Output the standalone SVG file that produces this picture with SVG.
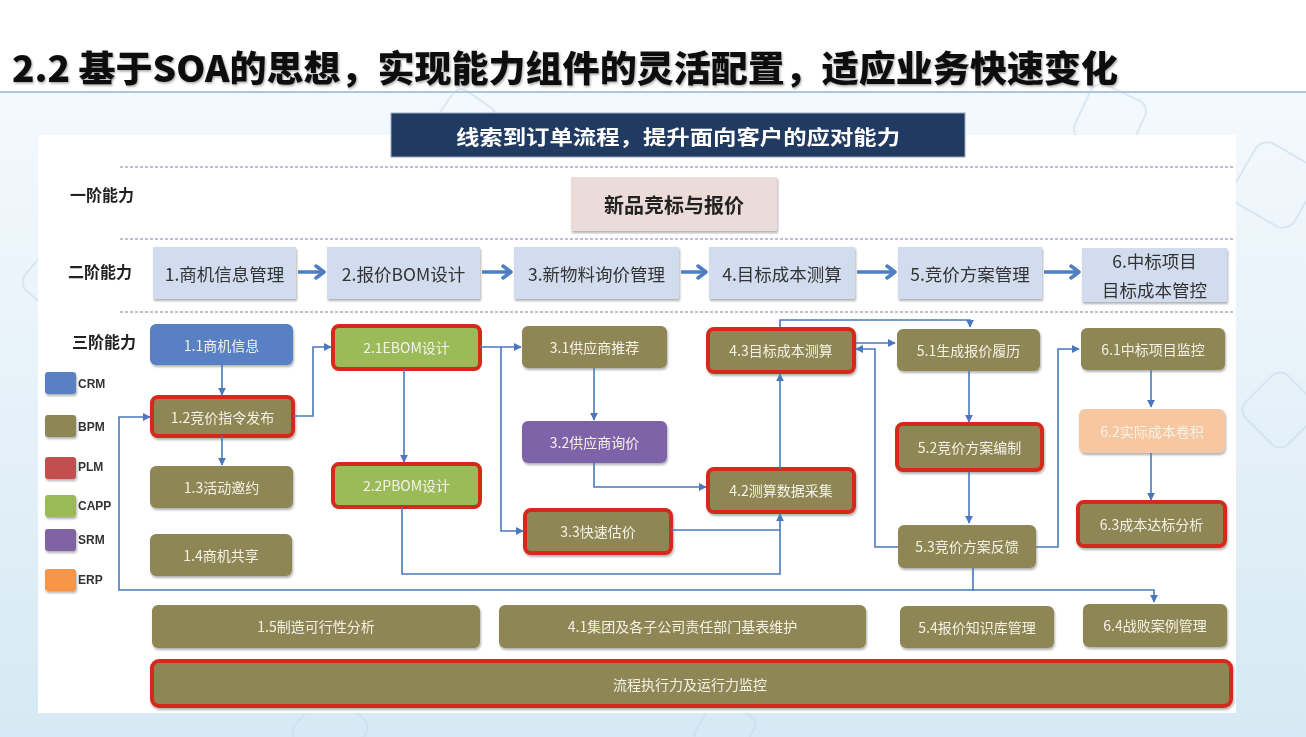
<svg xmlns="http://www.w3.org/2000/svg" width="1306" height="737" viewBox="0 0 1306 737">
<defs>
<linearGradient id="bg" x1="0" y1="0" x2="0" y2="1">
<stop offset="0" stop-color="#F4F9FD"/>
<stop offset="1" stop-color="#D6E9F4"/>
</linearGradient>
<filter id="sh" x="-10%" y="-20%" width="120%" height="150%">
<feDropShadow dx="1" dy="2" stdDeviation="1.2" flood-color="#000" flood-opacity="0.3"/>
</filter>
<filter id="tsh" x="-2%" y="-20%" width="104%" height="150%">
<feDropShadow dx="1" dy="1.5" stdDeviation="0.8" flood-color="#000" flood-opacity="0.35"/>
</filter>
<marker id="ar" viewBox="0 0 10 10" refX="9" refY="5" markerWidth="8" markerHeight="8" markerUnits="userSpaceOnUse" orient="auto">
<path d="M0,0 L10,5 L0,10 z" fill="#4A78BC"/>
</marker>
<marker id="ar2" viewBox="0 0 12 16" refX="10" refY="8" markerWidth="12" markerHeight="16" markerUnits="userSpaceOnUse" orient="auto">
<path d="M2,2 L10,8 L2,14" fill="none" stroke="#4F7EC0" stroke-width="3.5" stroke-linecap="round" stroke-linejoin="round"/>
</marker>
</defs>
<style>
.t3{font-family:"Noto Sans CJK SC","Liberation Sans",sans-serif;font-size:14px;fill:#F4F2E6;text-anchor:middle;dominant-baseline:central}
.t2{font-family:"Noto Sans CJK SC","Liberation Sans",sans-serif;font-size:17.5px;fill:#333;text-anchor:middle;dominant-baseline:central}
.lv{font-family:"Noto Sans CJK SC",sans-serif;font-size:16px;font-weight:bold;fill:#222}
.lg{font-family:"Liberation Sans",sans-serif;font-size:12px;font-weight:bold;fill:#333}
.ol{fill:#8E8754;filter:url(#sh)}
.red{stroke:#D42A1C;stroke-width:4}
.b2{fill:#D1DCEE;filter:url(#sh)}
.cn{fill:none;stroke:#4A78BC;stroke-width:1.6;marker-end:url(#ar)}
.cn0{fill:none;stroke:#4A78BC;stroke-width:1.6}
.big{fill:none;stroke:#4F7EC0;stroke-width:3.5;marker-end:url(#ar2)}
.dot{stroke:#A4ADBD;stroke-width:1.6;stroke-dasharray:3 2}
.dec{fill:none;stroke:#C9DDEC;stroke-width:1.5}
</style>

<!-- background -->
<rect x="0" y="0" width="1306" height="737" fill="#FFFFFF"/>
<rect x="0" y="92" width="1306" height="645" fill="url(#bg)"/>
<g opacity="0.8">
<rect class="dec" x="30" y="250" width="60" height="60" rx="12" transform="rotate(40 60 280)"/>
<rect class="dec" x="1240" y="150" width="70" height="70" rx="14" transform="rotate(30 1275 185)"/>
<rect class="dec" x="1250" y="380" width="60" height="60" rx="12" transform="rotate(45 1280 410)"/>
<rect class="dec" x="440" y="95" width="50" height="50" rx="10" transform="rotate(35 465 120)"/>
<rect class="dec" x="1080" y="90" width="60" height="60" rx="12" transform="rotate(25 1110 120)"/>
<rect class="dec" x="300" y="700" width="60" height="60" rx="12" transform="rotate(40 330 730)"/>
<rect class="dec" x="700" y="705" width="50" height="50" rx="10" transform="rotate(30 725 730)"/>
</g>
<line x1="0" y1="92" x2="1306" y2="92" stroke="#A9C6E3" stroke-width="2"/>
<rect x="38" y="135" width="1198" height="578" fill="#FFFFFF"/>

<!-- title -->
<text x="12" y="82" font-family="Noto Sans CJK SC,Liberation Sans,sans-serif" font-size="36" font-weight="900" fill="#111" textLength="1106" lengthAdjust="spacingAndGlyphs" filter="url(#tsh)">2.2 基于SOA的思想，实现能力组件的灵活配置，适应业务快速变化</text>

<g id="header">
<rect x="391" y="113" width="574" height="44" fill="#213A61" stroke="#9AAAC2" stroke-width="1"/>
<text x="678" y="136" font-family="Noto Sans CJK SC,sans-serif" font-size="20" font-weight="bold" fill="#FFFFFF" text-anchor="middle" dominant-baseline="central" textLength="444" lengthAdjust="spacingAndGlyphs">线索到订单流程，提升面向客户的应对能力</text>
</g>

<!-- dotted separators -->
<line class="dot" x1="120" y1="167" x2="1235" y2="167"/>
<line class="dot" x1="120" y1="239" x2="1235" y2="239"/>
<line class="dot" x1="120" y1="312" x2="1235" y2="312"/>

<!-- level labels -->
<text class="lv" x="70" y="201">一阶能力</text>
<text class="lv" x="68" y="278">二阶能力</text>
<text class="lv" x="72" y="348">三阶能力</text>

<!-- legend -->
<g id="legend">
<rect x="45" y="372" width="31" height="22" rx="3" fill="#5A80C4" filter="url(#sh)"/><text class="lg" x="78" y="388">CRM</text>
<rect x="45" y="415" width="31" height="22" rx="3" fill="#8E8754" filter="url(#sh)"/><text class="lg" x="78" y="431">BPM</text>
<rect x="45" y="457" width="31" height="22" rx="3" fill="#C0504D" filter="url(#sh)"/><text class="lg" x="78" y="471">PLM</text>
<rect x="45" y="495" width="31" height="22" rx="3" fill="#9BBB59" filter="url(#sh)"/><text class="lg" x="78" y="510">CAPP</text>
<rect x="45" y="529" width="31" height="22" rx="3" fill="#8064A2" filter="url(#sh)"/><text class="lg" x="78" y="544">SRM</text>
<rect x="45" y="569" width="31" height="22" rx="3" fill="#F79646" filter="url(#sh)"/><text class="lg" x="78" y="584">ERP</text>
</g>

<!-- level 1 -->
<g id="L1">
<rect x="571" y="177" width="206" height="54" fill="#EBDBD9" filter="url(#sh)"/>
<text x="674" y="204" font-family="Noto Sans CJK SC,sans-serif" font-size="20" font-weight="bold" fill="#222" text-anchor="middle" dominant-baseline="central">新品竞标与报价</text>
</g>

<!-- level 2 -->
<g id="L2-1"><rect class="b2" x="153" y="247" width="143" height="52"/><text class="t2" x="224.5" y="273">1.商机信息管理</text></g>
<g id="L2-2"><rect class="b2" x="327" y="247" width="153" height="52"/><text class="t2" x="403.5" y="273">2.报价BOM设计</text></g>
<g id="L2-3"><rect class="b2" x="514" y="247" width="165" height="52"/><text class="t2" x="596.5" y="273">3.新物料询价管理</text></g>
<g id="L2-4"><rect class="b2" x="709" y="247" width="146" height="52"/><text class="t2" x="782" y="273">4.目标成本测算</text></g>
<g id="L2-5"><rect class="b2" x="898" y="247" width="144" height="52"/><text class="t2" x="970" y="273">5.竞价方案管理</text></g>
<g id="L2-6"><rect class="b2" x="1082" y="248" width="145" height="54"/><text class="t2" x="1154.5" y="260">6.中标项目</text><text class="t2" x="1154.5" y="289">目标成本管控</text></g>

<!-- level 3 -->
<g id="n11"><rect x="150" y="324" width="143" height="41" rx="6" fill="#5A80C4" filter="url(#sh)"/><text class="t3" x="221.5" y="345">1.1商机信息</text></g>
<g id="n12"><rect class="ol red" x="152" y="397" width="141" height="39" rx="6"/><text class="t3" x="222.5" y="417">1.2竞价指令发布</text></g>
<g id="n13"><rect class="ol" x="150" y="466" width="143" height="42" rx="6"/><text class="t3" x="221.5" y="487">1.3活动邀约</text></g>
<g id="n14"><rect class="ol" x="150" y="534" width="142" height="42" rx="6"/><text class="t3" x="221" y="555">1.4商机共享</text></g>
<g id="n21"><rect class="red" x="333" y="326" width="147" height="43" rx="6" fill="#9BBB59"/><text class="t3" x="406.5" y="347">2.1EBOM设计</text></g>
<g id="n22"><rect class="red" x="333" y="464" width="147" height="43" rx="6" fill="#9BBB59"/><text class="t3" x="406.5" y="485">2.2PBOM设计</text></g>
<g id="n31"><rect class="ol" x="522" y="326" width="145" height="42" rx="6"/><text class="t3" x="594.5" y="347">3.1供应商推荐</text></g>
<g id="n32"><rect x="522" y="421" width="145" height="42" rx="6" fill="#7E63A8" filter="url(#sh)"/><text class="t3" x="594.5" y="442">3.2供应商询价</text></g>
<g id="n33"><rect class="ol red" x="525" y="510" width="146" height="43" rx="6"/><text class="t3" x="598" y="531">3.3快速估价</text></g>
<g id="n43"><rect class="ol red" x="708" y="329" width="146" height="43" rx="6"/><text class="t3" x="781" y="350">4.3目标成本测算</text></g>
<g id="n42"><rect class="ol red" x="708" y="469" width="146" height="43" rx="6"/><text class="t3" x="781" y="490">4.2测算数据采集</text></g>
<g id="n51"><rect class="ol" x="897" y="329" width="143" height="42" rx="6"/><text class="t3" x="968.5" y="350">5.1生成报价履历</text></g>
<g id="n52"><rect class="ol red" x="897" y="424" width="145" height="46" rx="6"/><text class="t3" x="969.5" y="447">5.2竞价方案编制</text></g>
<g id="n53"><rect class="ol" x="898" y="525" width="138" height="43" rx="6"/><text class="t3" x="967" y="546">5.3竞价方案反馈</text></g>
<g id="n61"><rect class="ol" x="1081" y="328" width="144" height="42" rx="6"/><text class="t3" x="1153" y="349">6.1中标项目监控</text></g>
<g id="n62"><rect x="1079" y="409" width="146" height="44" rx="6" fill="#F6C7A0" filter="url(#sh)"/><text class="t3" x="1152" y="431">6.2实际成本卷积</text></g>
<g id="n63"><rect class="ol red" x="1078" y="502" width="147" height="44" rx="6"/><text class="t3" x="1151.5" y="524">6.3成本达标分析</text></g>
<g id="n15"><rect class="ol" x="152" y="605" width="328" height="43" rx="6"/><text class="t3" x="316" y="626">1.5制造可行性分析</text></g>
<g id="n41"><rect class="ol" x="499" y="605" width="367" height="43" rx="6"/><text class="t3" x="682.5" y="626">4.1集团及各子公司责任部门基表维护</text></g>
<g id="n54"><rect class="ol" x="900" y="606" width="154" height="42" rx="6"/><text class="t3" x="977" y="627">5.4报价知识库管理</text></g>
<g id="n64"><rect class="ol" x="1083" y="604" width="144" height="43" rx="6"/><text class="t3" x="1155" y="625">6.4战败案例管理</text></g>
<g id="nbot"><rect class="ol red" x="152" y="661" width="1079" height="45" rx="7"/><text class="t3" x="690" y="684">流程执行力及运行力监控</text></g>

<!-- connectors -->
<g id="connectors">
<path class="big" d="M298,272 H324"/>
<path class="big" d="M482,272 H511"/>
<path class="big" d="M681,272 H706"/>
<path class="big" d="M857,272 H895"/>
<path class="big" d="M1044,272 H1079"/>

<path class="cn" d="M222,365 V395"/>
<path class="cn" d="M222,436 V465"/>
<path class="cn" d="M293,416 H313 V347 H331"/>
<path class="cn" d="M404,369 V462"/>
<path class="cn" d="M480,347 H521"/>
<path class="cn" d="M501,347 V531 H523"/>
<path class="cn" d="M594,368 V420"/>
<path class="cn" d="M594,463 V487 H706"/>
<path class="cn" d="M402,507 V574 H780 V514"/>
<path class="cn0" d="M671,530 H780"/>
<path class="cn" d="M780,469 V374"/>
<path class="cn" d="M780,327 V320 H970 V327"/>
<path class="cn" d="M856,343 H895"/>
<path class="cn" d="M898,547 H875 V349 H856"/>
<path class="cn" d="M969,371 V422"/>
<path class="cn" d="M969,472 V523"/>
<path class="cn" d="M1036,547 H1058 V349 H1079"/>
<path class="cn" d="M1151,370 V407"/>
<path class="cn" d="M1151,453 V500"/>
<path class="cn" d="M973,568 V590 H1154 V602"/>
<path class="cn" d="M973,590 H119 V417 H150"/>
</g>
</svg>
